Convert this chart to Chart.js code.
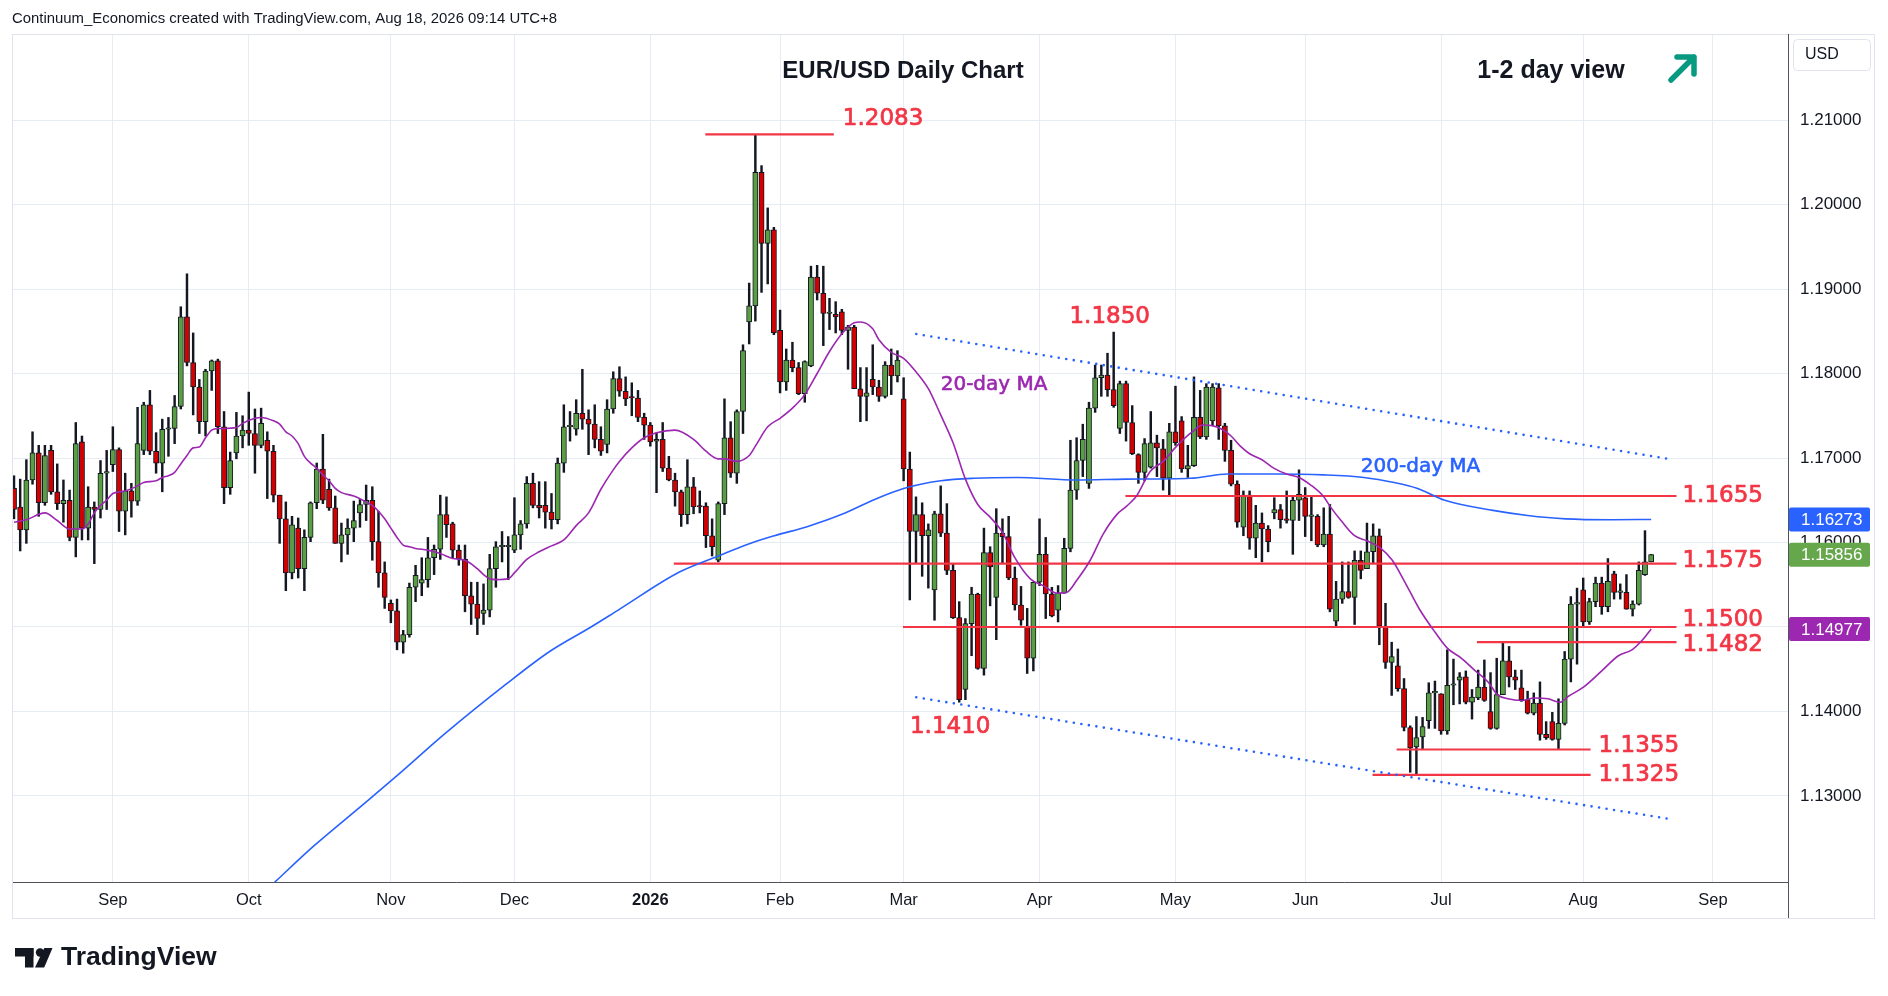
<!DOCTYPE html>
<html>
<head>
<meta charset="utf-8">
<title>EUR/USD Daily Chart</title>
<script src="https://cdn.jsdelivr.net/npm/chart.js@4.4.1/dist/chart.umd.min.js"></script>
<style>
  html, body { margin: 0; padding: 0; background: #ffffff; }
  #chart { display: block; }
</style>
</head>
<body>
<canvas id="chart" width="1888" height="996"></canvas>
<script>
// daily EUR/USD candles, 8 Aug 2025 .. 18 Aug 2026 (bar index 0..265)
const opens = [
  1.1664,1.1642,1.1615,1.1674,1.1706,1.1647,1.1709,1.1660,1.1646,1.1650,
  1.1606,1.1719,1.1617,1.1642,1.1639,1.1682,1.1692,1.1710,1.1637,1.1661,
  1.1649,1.1709,1.1763,1.1708,1.1694,1.1734,1.1735,1.1761,1.1867,1.1813,
  1.1784,1.1743,1.1803,1.1815,1.1737,1.1665,1.1706,1.1726,1.1733,1.1729,
  1.1715,1.1721,1.1708,1.1656,1.1628,1.1564,1.1617,1.1569,1.1606,1.1647,
  1.1687,1.1663,1.1641,1.1599,1.1609,1.1617,1.1635,1.1645,1.1650,1.1601,
  1.1564,1.1528,1.1519,1.1482,1.1491,1.1547,1.1552,1.1556,1.1582,1.1592,
  1.1633,1.1622,1.1591,1.1580,1.1537,1.1527,1.1516,1.1520,1.1569,1.1595,
  1.1595,1.1591,1.1609,1.1622,1.1670,1.1644,1.1644,1.1636,1.1627,1.1694,
  1.1737,1.1734,1.1753,1.1746,1.1740,1.1722,1.1716,1.1758,1.1794,1.1779,
  1.1772,1.1771,1.1748,1.1739,1.1720,1.1722,1.1688,1.1674,1.1660,1.1633,
  1.1666,1.1643,1.1643,1.1608,1.1579,1.1646,1.1724,1.1682,1.1755,1.1861,
  1.1880,1.2038,1.1954,1.1970,1.1851,1.1790,1.1816,1.1807,1.1776,1.1809,
  1.1914,1.1895,1.1871,1.1870,1.1873,1.1851,1.1855,1.1782,1.1773,1.1793,
  1.1784,1.1773,1.1810,1.1797,1.1770,1.1687,1.1613,1.1633,1.1608,1.1544,
  1.1634,1.1611,1.1567,1.1511,1.1426,1.1504,1.1539,1.1451,1.1588,1.1535,
  1.1611,1.1607,1.1558,1.1526,1.1501,1.1463,1.1553,1.1586,1.1539,1.1520,
  1.1540,1.1593,1.1662,1.1697,1.1670,1.1759,1.1795,1.1798,1.1781,1.1735,
  1.1788,1.1742,1.1704,1.1683,1.1689,1.1718,1.1711,1.1676,1.1731,1.1744,
  1.1687,1.1691,1.1748,1.1725,1.1744,1.1783,1.1738,1.1709,1.1669,1.1618,
  1.1656,1.1605,1.1623,1.1616,1.1635,1.1639,1.1628,1.1626,1.1650,1.1653,
  1.1631,1.1631,1.1597,1.1610,1.1507,1.1533,1.1542,1.1535,1.1579,1.1569,
  1.1589,1.1608,1.1501,1.1458,1.1454,1.1427,1.1381,1.1358,1.1370,1.1389,
  1.1422,1.1421,1.1377,1.1431,1.1437,1.1441,1.1411,1.1416,1.1429,1.1400,
  1.1380,1.1420,1.1460,1.1441,1.1428,1.1414,1.1398,1.1410,1.1373,1.1388,
  1.1367,1.1386,1.1462,1.1527,1.1544,1.1506,1.1530,1.1552,1.1524,1.1563,
  1.1541,1.1541,1.1521,1.1527,1.1562,1.1577
];
const highs = [
  1.1679,1.1675,1.1698,1.1731,1.1715,1.1715,1.1715,1.1693,1.1674,1.1662,
  1.1742,1.1726,1.1666,1.1648,1.1697,1.1709,1.1737,1.1712,1.1682,1.1670,
  1.1760,1.1766,1.1780,1.1730,1.1746,1.1748,1.1774,1.1879,1.1918,1.1848,
  1.1793,1.1805,1.1816,1.1817,1.1755,1.1707,1.1754,1.1750,1.1778,1.1758,
  1.1759,1.1731,1.1715,1.1656,1.1648,1.1631,1.1629,1.1615,1.1648,1.1694,
  1.1728,1.1675,1.1655,1.1623,1.1628,1.1649,1.1651,1.1668,1.1666,1.1637,
  1.1577,1.1532,1.1533,1.1496,1.1552,1.1573,1.1582,1.1606,1.1597,1.1656,
  1.1654,1.1624,1.1597,1.1597,1.1553,1.1553,1.1551,1.1586,1.1601,1.1613,
  1.1607,1.1653,1.1626,1.1678,1.1682,1.1672,1.1672,1.1658,1.1700,1.1763,
  1.1755,1.1769,1.1805,1.1757,1.1763,1.1737,1.1769,1.1802,1.1808,1.1796,
  1.1789,1.1780,1.1753,1.1742,1.1730,1.1742,1.1702,1.1682,1.1662,1.1698,
  1.1677,1.1661,1.1647,1.1628,1.1648,1.1770,1.1743,1.1757,1.1834,1.1907,
  1.2083,1.2046,1.1996,1.1973,1.1875,1.1829,1.1837,1.1813,1.1815,1.1927,
  1.1928,1.1927,1.1889,1.1885,1.1876,1.1857,1.1857,1.1807,1.1807,1.1834,
  1.1792,1.1814,1.1829,1.1827,1.1795,1.1707,1.1654,1.1647,1.1622,1.1637,
  1.1667,1.1646,1.1575,1.1530,1.1510,1.1547,1.1540,1.1617,1.1595,1.1640,
  1.1628,1.1631,1.1571,1.1548,1.1522,1.1553,1.1628,1.1606,1.1547,1.1549,
  1.1605,1.1721,1.1724,1.1740,1.1766,1.1810,1.1810,1.1824,1.1849,1.1791,
  1.1791,1.1762,1.1705,1.1723,1.1755,1.1727,1.1722,1.1741,1.1785,1.1749,
  1.1715,1.1796,1.1780,1.1788,1.1788,1.1788,1.1741,1.1721,1.1673,1.1661,
  1.1661,1.1644,1.1635,1.1620,1.1653,1.1645,1.1661,1.1655,1.1686,1.1665,
  1.1655,1.1633,1.1641,1.1645,1.1554,1.1577,1.1577,1.1590,1.1590,1.1623,
  1.1622,1.1616,1.1528,1.1482,1.1474,1.1439,1.1383,1.1394,1.1393,1.1434,
  1.1436,1.1421,1.1473,1.1462,1.1446,1.1448,1.1426,1.1449,1.1461,1.1446,
  1.1463,1.1482,1.1477,1.1449,1.1449,1.1424,1.1422,1.1435,1.1388,1.1399,
  1.1415,1.1471,1.1536,1.1546,1.1558,1.1534,1.1559,1.1559,1.1581,1.1566,
  1.1551,1.1562,1.1531,1.1577,1.1614,1.1586
];
const lows = [
  1.1628,1.1590,1.1599,1.1669,1.1631,1.1644,1.1657,1.1639,1.1624,1.1602,
  1.1583,1.1603,1.1603,1.1575,1.1629,1.1639,1.1684,1.1613,1.1609,1.1630,
  1.1644,1.1704,1.1704,1.1682,1.1660,1.1702,1.1717,1.1758,1.1809,1.1751,
  1.1729,1.1726,1.1780,1.1729,1.1646,1.1657,1.1699,1.1712,1.1715,1.1682,
  1.1712,1.1652,1.1648,1.1599,1.1543,1.1557,1.1558,1.1543,1.1601,1.1640,
  1.1646,1.1638,1.1599,1.1577,1.1586,1.1601,1.1618,1.1626,1.1579,1.1547,
  1.1522,1.1505,1.1473,1.1469,1.1488,1.1530,1.1537,1.1547,1.1562,1.1580,
  1.1606,1.1582,1.1573,1.1518,1.1503,1.1491,1.1503,1.1512,1.1547,1.1577,
  1.1556,1.1588,1.1592,1.1617,1.1641,1.1629,1.1617,1.1616,1.1622,1.1683,
  1.1720,1.1727,1.1734,1.1704,1.1712,1.1703,1.1706,1.1753,1.1773,1.1762,
  1.1750,1.1743,1.1722,1.1714,1.1659,1.1684,1.1673,1.1643,1.1619,1.1622,
  1.1634,1.1635,1.1594,1.1584,1.1577,1.1633,1.1677,1.1670,1.1729,1.1835,
  1.1862,1.1896,1.1906,1.1846,1.1777,1.1780,1.1802,1.1775,1.1766,1.1808,
  1.1887,1.1833,1.1852,1.1848,1.1846,1.1805,1.1782,1.1743,1.1744,1.1775,
  1.1767,1.1771,1.1775,1.1790,1.1673,1.1532,1.1575,1.1560,1.1546,1.1508,
  1.1607,1.1562,1.1510,1.1411,1.1414,1.1466,1.1450,1.1443,1.1525,1.1485,
  1.1575,1.1556,1.1520,1.1502,1.1445,1.1448,1.1549,1.1510,1.1512,1.1506,
  1.1540,1.1589,1.1651,1.1678,1.1664,1.1754,1.1773,1.1773,1.1760,1.1729,
  1.1720,1.1704,1.1670,1.1673,1.1688,1.1678,1.1662,1.1656,1.1715,1.1683,
  1.1677,1.1690,1.1723,1.1722,1.1739,1.1722,1.1696,1.1667,1.1618,1.1608,
  1.1592,1.1582,1.1577,1.1589,1.1628,1.1617,1.1623,1.1586,1.1626,1.1607,
  1.1602,1.1595,1.1595,1.1518,1.1501,1.1528,1.1534,1.1503,1.1557,1.1569,
  1.1575,1.1479,1.1451,1.1419,1.1424,1.1377,1.1328,1.1325,1.1355,1.1380,
  1.1380,1.1373,1.1373,1.1408,1.1409,1.1409,1.1391,1.1414,1.1412,1.1379,
  1.1379,1.1420,1.1429,1.1426,1.1412,1.1397,1.1396,1.1366,1.1367,1.1366,
  1.1355,1.1384,1.1435,1.1456,1.1501,1.1503,1.1524,1.1515,1.1518,1.1533,
  1.1533,1.1521,1.1513,1.1526,1.1561,1.1577
];
const closes = [
  1.1639,1.1615,1.1674,1.1706,1.1647,1.1703,1.1660,1.1646,1.1650,1.1606,
  1.1717,1.1617,1.1642,1.1639,1.1682,1.1684,1.1710,1.1637,1.1661,1.1649,
  1.1717,1.1763,1.1708,1.1694,1.1734,1.1735,1.1761,1.1867,1.1813,1.1784,
  1.1743,1.1803,1.1815,1.1737,1.1665,1.1697,1.1726,1.1733,1.1729,1.1715,
  1.1741,1.1708,1.1656,1.1628,1.1564,1.1621,1.1569,1.1606,1.1647,1.1687,
  1.1650,1.1641,1.1599,1.1609,1.1617,1.1626,1.1645,1.1650,1.1601,1.1564,
  1.1535,1.1519,1.1482,1.1491,1.1547,1.1561,1.1556,1.1582,1.1592,1.1633,
  1.1621,1.1591,1.1581,1.1537,1.1527,1.1510,1.1520,1.1569,1.1595,1.1595,
  1.1595,1.1609,1.1622,1.1670,1.1644,1.1641,1.1636,1.1627,1.1694,1.1737,
  1.1737,1.1753,1.1746,1.1740,1.1722,1.1708,1.1758,1.1794,1.1779,1.1770,
  1.1771,1.1748,1.1739,1.1719,1.1722,1.1688,1.1674,1.1660,1.1633,1.1666,
  1.1642,1.1642,1.1608,1.1595,1.1646,1.1724,1.1682,1.1755,1.1827,1.1880,
  1.2038,1.1954,1.1970,1.1848,1.1790,1.1816,1.1807,1.1776,1.1814,1.1914,
  1.1895,1.1871,1.1871,1.1867,1.1851,1.1855,1.1782,1.1773,1.1777,1.1784,
  1.1773,1.1810,1.1797,1.1816,1.1687,1.1613,1.1633,1.1608,1.1615,1.1634,
  1.1611,1.1567,1.1511,1.1414,1.1504,1.1539,1.1451,1.1588,1.1571,1.1611,
  1.1607,1.1558,1.1526,1.1508,1.1463,1.1553,1.1586,1.1539,1.1513,1.1540,
  1.1593,1.1662,1.1697,1.1722,1.1759,1.1795,1.1798,1.1781,1.1762,1.1788,
  1.1742,1.1705,1.1683,1.1717,1.1718,1.1712,1.1676,1.1731,1.1718,1.1687,
  1.1691,1.1748,1.1725,1.1784,1.1784,1.1738,1.1709,1.1669,1.1624,1.1656,
  1.1605,1.1623,1.1616,1.1601,1.1639,1.1627,1.1626,1.1650,1.1657,1.1631,
  1.1631,1.1597,1.1610,1.1521,1.1533,1.1542,1.1535,1.1579,1.1567,1.1589,
  1.1608,1.1501,1.1458,1.1465,1.1427,1.1381,1.1357,1.1369,1.1382,1.1422,
  1.1422,1.1377,1.1431,1.1432,1.1441,1.1411,1.1417,1.1429,1.1413,1.1380,
  1.1420,1.1460,1.1441,1.1437,1.1414,1.1398,1.1410,1.1373,1.1369,1.1367,
  1.1386,1.1462,1.1527,1.1527,1.1506,1.1530,1.1552,1.1524,1.1554,1.1541,
  1.1541,1.1521,1.1527,1.1567,1.1577,1.15856
];

// month starts (bar index) and their axis labels
const monthTicks = [16, 38, 61, 81, 103, 124, 144, 166, 188, 209, 231, 254, 275];
const monthLabels = ["Sep", "Oct", "Nov", "Dec", "2026", "Feb", "Mar", "Apr", "May", "Jun", "Jul", "Aug", "Sep"];
const priceTicks = [1.13, 1.14, 1.15, 1.16, 1.17, 1.18, 1.19, 1.20, 1.21];

// moving averages: [bar index, value]
const ma20 = [
  [0,1.1624],[2,1.1627],[5,1.1635],[7,1.1626],[9,1.1616],[11,1.1616],[12,1.1622],[13,1.1635],
  [14,1.1644],[15,1.1650],[16,1.1658],[18,1.1661],[20,1.1667],[21,1.1671],[23,1.1673],[24,1.1677],
  [25,1.1679],[26,1.1683],[27,1.1693],[28,1.1703],[29,1.1712],[30,1.1713],[31,1.1724],[32,1.1733],
  [33,1.1735],[34,1.1735],[36,1.1736],[37,1.1741],[39,1.1747],[40,1.1748],[42,1.1744],[43,1.1740],
  [44,1.1731],[45,1.1726],[46,1.1717],[47,1.1702],[48,1.1694],[49,1.1688],[50,1.1680],[51,1.1673],
  [52,1.1664],[53,1.1659],[55,1.1655],[57,1.1648],[58,1.1644],[59,1.1637],[60,1.1628],[61,1.1617],
  [62,1.1606],[63,1.1597],[64,1.1595],[65,1.1593],[67,1.1591],[69,1.1587],[71,1.1581],[73,1.1579],
  [75,1.1569],[76,1.1562],[77,1.1557],[78,1.1556],[80,1.1557],[81,1.1564],[83,1.1580],[85,1.1589],
  [87,1.1596],[89,1.1603],[91,1.1620],[93,1.1635],[95,1.1663],[97,1.1686],[98,1.1696],[100,1.1712],
  [102,1.1724],[104,1.1730],[107,1.1733],[110,1.1722],[112,1.1708],[114,1.1699],[115,1.1699],[117,1.1696],
  [119,1.1703],[120,1.1714],[122,1.1737],[124,1.1747],[126,1.1759],[128,1.1775],[130,1.1800],[132,1.1826],
  [134,1.1847],[136,1.1860],[137,1.1861],[139,1.1853],[140,1.1840],[142,1.1825],[144,1.1818],[146,1.1802],
  [148,1.1782],[150,1.1751],[152,1.1718],[154,1.1675],[156,1.1645],[158,1.1630],[160,1.1612],[162,1.1582],
  [164.5,1.1557],[166.6,1.1549],[168.8,1.1540],[170.4,1.1541],[172,1.1555],[174.2,1.1579],[176.3,1.1610],
  [178.5,1.1633],[180.1,1.1643],[181.7,1.1655],[183.9,1.1684],[186,1.1696],[188.2,1.1714],[190.4,1.1729],
  [192.5,1.1739],[194.1,1.1738],[195.5,1.1734],[197,1.1726],[198.5,1.1714],[200,1.1705],[202,1.1698],
  [203.9,1.1688],[206,1.1681],[208,1.1677],[209.9,1.1668],[211.9,1.1655],[213.2,1.1641],[214.8,1.1626],
  [217,1.1608],[219,1.1602],[221.1,1.1594],[223.1,1.1579],[225,1.1555],[227.5,1.1521],[230,1.1494],
  [232,1.1475],[234.3,1.1463],[236.4,1.1449],[238.6,1.1435],[240.1,1.1420],[241.8,1.1415],[244.1,1.1413],
  [246.1,1.1416],[248.3,1.1415],[250.2,1.1411],[251.6,1.1418],[254.1,1.1429],[257,1.1448],[259.7,1.1466],
  [261.9,1.1473],[263.5,1.1484],[265,1.14977]
];
const ma200 = [
  [42.2,1.1198],[48.4,1.1240],[56.2,1.1288],[62,1.1324],[69.8,1.1374],[79.6,1.1432],[86.7,1.1471],
  [93.4,1.1500],[97.8,1.1520],[107.7,1.1565],[114,1.1584],[118.8,1.1598],[123.1,1.1608],[128.5,1.1619],
  [133.9,1.1633],[139.3,1.1651],[144,1.1664],[150,1.1673],[155.4,1.1676],[162.4,1.1677],[172,1.1674],
  [180,1.1675],[190.4,1.1676],[196.5,1.1681],[204,1.1681],[212,1.1680],[218.5,1.1677],[223.4,1.1671],
  [227.2,1.1664],[231.6,1.1650],[239.4,1.1638],[245,1.1632],[251.2,1.1628],[258.5,1.1627],[265,1.16273]
];

// channel lines and support / resistance levels
const upperTrend = [[146.05, 1.18467], [268.6, 1.1698]];
const lowerTrend = [[146.05, 1.14168], [268.6, 1.12721]];
const levelValues = [1.2083, 1.1655, 1.1575, 1.1500, 1.1482, 1.1355, 1.1325];
const levelFrom   = [111.9, 179.9, 106.8, 143.9, 236.8, 223.8, 219.9];
const levelTo     = [132.7, 269.1, 269.1, 269.1, 269.1, 255.2, 255.2];

const GREEN = "#5a9e43";
const RED = "#d20000";
const INK = "#131722";
const LEVEL_RED = "#f23645";
const MA20_COLOR = "#9c27b0";
const MA200_COLOR = "#2962ff";
const SANS = "'Liberation Sans', Arial, sans-serif";
const DEJAVU = "'DejaVu Sans', Verdana, sans-serif";

const bars = opens.map((_, i) => i);
const pts = (arr) => arr.map(([x, y]) => ({ x, y }));

const datasets = [
  {
    type: "bar",
    data: bars.map((i) => ({ x: i, y: [lows[i], highs[i]] })),
    backgroundColor: INK,
    barThickness: 1.8,
    grouped: false,
    order: 5,
  },
  {
    type: "bar",
    data: bars.map((i) => ({ x: i, y: [opens[i], closes[i]] })),
    backgroundColor: bars.map((i) => (closes[i] >= opens[i] ? GREEN : RED)),
    borderColor: INK,
    borderWidth: 1,
    borderSkipped: false,
    barThickness: 5.2,
    minBarLength: 1.5,
    grouped: false,
    order: 4,
  },
  {
    type: "line",
    data: pts(ma200),
    borderColor: MA200_COLOR,
    borderWidth: 1.6,
    pointRadius: 0,
    cubicInterpolationMode: "monotone",
    order: 2,
  },
  {
    type: "line",
    data: pts(ma20),
    borderColor: MA20_COLOR,
    borderWidth: 1.6,
    pointRadius: 0,
    cubicInterpolationMode: "monotone",
    order: 1,
  },
];

[upperTrend, lowerTrend].forEach((t) => {
  datasets.push({
    type: "line",
    data: pts(t),
    borderColor: MA200_COLOR,
    borderWidth: 2.6,
    borderDash: [0, 7.6],
    borderCapStyle: "round",
    pointRadius: 0,
    order: 3,
  });
});

levelValues.forEach((v, k) => {
  datasets.push({
    type: "line",
    data: [{ x: levelFrom[k], y: v }, { x: levelTo[k], y: v }],
    borderColor: LEVEL_RED,
    borderWidth: 2.2,
    pointRadius: 0,
    order: 3,
  });
});

function roundRect(ctx, x, y, w, h, r) {
  ctx.beginPath();
  ctx.moveTo(x + r, y);
  ctx.lineTo(x + w - r, y);
  ctx.quadraticCurveTo(x + w, y, x + w, y + r);
  ctx.lineTo(x + w, y + h - r);
  ctx.quadraticCurveTo(x + w, y + h, x + w - r, y + h);
  ctx.lineTo(x + r, y + h);
  ctx.quadraticCurveTo(x, y + h, x, y + h - r);
  ctx.lineTo(x, y + r);
  ctx.quadraticCurveTo(x, y, x + r, y);
  ctx.closePath();
}

// filled text with a thin outline in the same colour, a bit heavier than plain
function heavyText(ctx, text, x, y, weight) {
  ctx.lineWidth = weight;
  ctx.strokeStyle = ctx.fillStyle;
  ctx.lineJoin = "round";
  ctx.strokeText(text, x, y);
  ctx.fillText(text, x, y);
}

const background = {
  id: "background",
  beforeDraw(chart) {
    const { ctx, width, height } = chart;
    ctx.save();
    ctx.fillStyle = "#ffffff";
    ctx.fillRect(0, 0, width, height);
    ctx.restore();
  },
};

const overlay = {
  id: "overlay",
  afterDraw(chart) {
    const { ctx, chartArea: area } = chart;
    const xs = chart.scales.x;
    const ys = chart.scales.y;
    ctx.save();

    // panel frame
    ctx.strokeStyle = "#e0e3eb";
    ctx.lineWidth = 1;
    ctx.strokeRect(12.5, 34.5, 1862, 884);
    ctx.strokeStyle = "#50535e";
    ctx.beginPath();
    ctx.moveTo(area.right + 0.5, 34);
    ctx.lineTo(area.right + 0.5, 918);
    ctx.stroke();

    // header line
    ctx.fillStyle = INK;
    ctx.textBaseline = "middle";
    ctx.textAlign = "left";
    ctx.font = "14.9px " + SANS;
    ctx.fillText("Continuum_Economics created with TradingView.com, Aug 18, 2026 09:14 UTC+8", 12, 19);

    // titles
    ctx.font = "bold 24px " + SANS;
    ctx.textAlign = "center";
    ctx.fillText("EUR/USD Daily Chart", 903, 71);
    ctx.font = "bold 25px " + SANS;
    ctx.fillText("1-2 day view", 1551, 71);

    // view arrow
    ctx.strokeStyle = "#089981";
    ctx.lineWidth = 5.5;
    ctx.lineCap = "round";
    ctx.lineJoin = "round";
    ctx.beginPath();
    ctx.moveTo(1671, 80);
    ctx.lineTo(1694, 57);
    ctx.moveTo(1677, 57);
    ctx.lineTo(1694, 57);
    ctx.lineTo(1694, 74);
    ctx.stroke();
    ctx.lineCap = "butt";

    // level labels
    ctx.fillStyle = LEVEL_RED;
    ctx.font = "23px " + DEJAVU;
    ctx.textAlign = "left";
    const shift = [-15, 0, -3, -7, 3, -3, 0];
    const gap = [9, 6, 6, 6, 6, 8, 8];
    levelValues.forEach((v, k) => {
      heavyText(ctx, v.toFixed(4), xs.getPixelForValue(levelTo[k]) + gap[k], ys.getPixelForValue(v) + shift[k], 0.7);
    });
    ctx.textAlign = "center";
    heavyText(ctx, highs[178].toFixed(3) + "0", xs.getPixelForValue(178) - 4, ys.getPixelForValue(highs[178]) - 15, 0.7);
    heavyText(ctx, lows[153].toFixed(3) + "0", xs.getPixelForValue(153) - 9, ys.getPixelForValue(lows[153]) + 25, 0.7);

    // MA labels
    ctx.textAlign = "left";
    ctx.font = "20px " + DEJAVU;
    ctx.fillStyle = MA20_COLOR;
    heavyText(ctx, "20-day MA", xs.getPixelForValue(150), ys.getPixelForValue(1.17864), 0.6);
    ctx.fillStyle = MA200_COLOR;
    heavyText(ctx, "200-day MA", xs.getPixelForValue(218), ys.getPixelForValue(1.16897), 0.6);

    // price boxes on the axis
    const boxes = [
      [ma200[ma200.length - 1][1], MA200_COLOR],
      [closes[closes.length - 1], "#67a74c"],
      [ma20[ma20.length - 1][1], MA20_COLOR],
    ];
    ctx.font = "17px " + SANS;
    boxes.forEach(([v, c]) => {
      const py = ys.getPixelForValue(v);
      ctx.fillStyle = c;
      roundRect(ctx, area.right + 1, py - 12, 81, 24, 2);
      ctx.fill();
      ctx.fillStyle = "#ffffff";
      ctx.fillText(v.toFixed(5), area.right + 13, py + 1);
    });

    // currency badge
    ctx.strokeStyle = "#e0e3eb";
    ctx.lineWidth = 1;
    roundRect(ctx, 1793.5, 39.5, 77, 31, 4);
    ctx.stroke();
    ctx.fillStyle = INK;
    ctx.font = "16px " + SANS;
    ctx.fillText("USD", 1805, 55);

    // TradingView mark
    ctx.fillStyle = INK;
    ctx.fillRect(15, 948, 18.5, 8.5);
    ctx.fillRect(25, 948, 8.5, 19.5);
    ctx.beginPath();
    ctx.arc(40, 952.5, 4.2, 0, Math.PI * 2);
    ctx.fill();
    ctx.beginPath();
    ctx.moveTo(44.3, 948);
    ctx.lineTo(52.5, 948);
    ctx.lineTo(44.2, 967.5);
    ctx.lineTo(35, 967.5);
    ctx.closePath();
    ctx.fill();
    ctx.font = "bold 26.5px " + SANS;
    ctx.fillText("TradingView", 61, 958);

    ctx.restore();
  },
};

new Chart(document.getElementById("chart"), {
  type: "bar",
  data: { datasets },
  options: {
    responsive: false,
    animation: false,
    events: [],
    layout: { padding: { left: 12, right: 13, top: 34, bottom: 78 } },
    plugins: { legend: { display: false }, tooltip: { enabled: false } },
    scales: {
      x: {
        type: "linear",
        min: -0.324,
        max: 287.15,
        offset: false,
        afterFit: (s) => { s.height = 36; },
        afterBuildTicks: (s) => { s.ticks = monthTicks.map((v) => ({ value: v })); },
        grid: { color: "#e6ecf3", offset: false, drawTicks: false },
        border: { display: true, color: "#50535e", width: 1 },
        ticks: {
          autoSkip: false,
          maxRotation: 0,
          padding: 9,
          color: INK,
          font: (c) => ({ family: SANS, size: 16.5, weight: c.tick && c.tick.value === 103 ? "bold" : "normal" }),
          callback: (v) => monthLabels[monthTicks.indexOf(v)] || "",
        },
      },
      y: {
        position: "right",
        min: 1.11982,
        max: 1.22018,
        afterFit: (s) => { s.width = 87; },
        afterBuildTicks: (s) => { s.ticks = priceTicks.map((v) => ({ value: v })); },
        grid: { color: "#e6ecf3", drawTicks: false },
        border: { display: true, color: "#50535e", width: 1 },
        ticks: {
          padding: 12,
          color: INK,
          font: { family: SANS, size: 17 },
          callback: (v) => Number(v).toFixed(5),
        },
      },
    },
  },
  plugins: [background, overlay],
});
</script>
</body>
</html>
